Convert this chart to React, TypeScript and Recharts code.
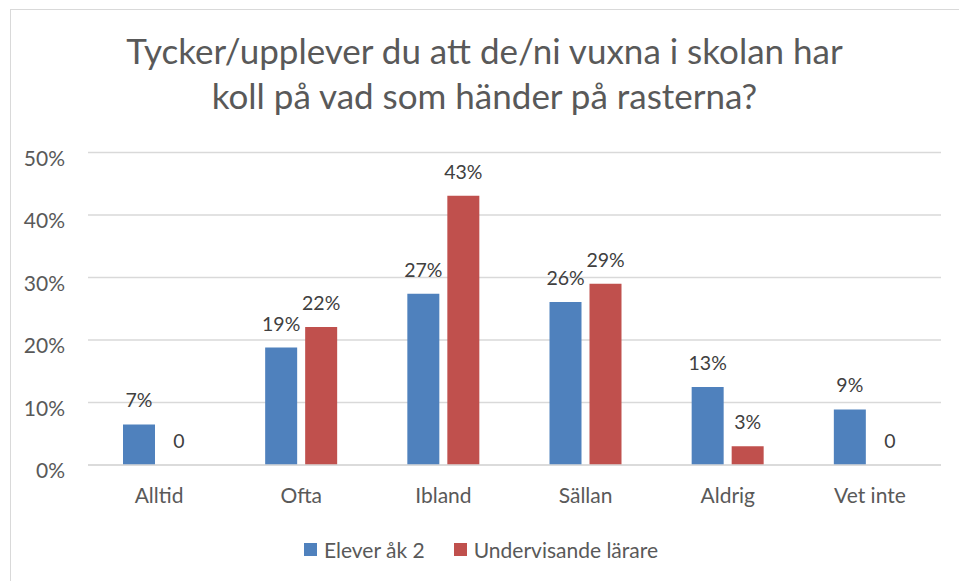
import React from 'react';
import { BarChart, Bar, XAxis, YAxis, CartesianGrid, LabelList } from 'recharts';

const categories = ['Alltid', 'Ofta', 'Ibland', 'Sällan', 'Aldrig', 'Vet inte'];
const eleverValues = [6.5, 18.8, 27.4, 26.1, 12.5, 8.9];
const lararValues = [0, 22.1, 43.1, 29.0, 3.0, 0];
const eleverLabels = ['7%', '19%', '27%', '26%', '13%', '9%'];
const lararLabels = ['0', '22%', '43%', '29%', '3%', '0'];
const yTicks = [0, 10, 20, 30, 40, 50];
const seriesNames = ['Elever åk 2', 'Undervisande lärare'];
const titleLines = ['Tycker/upplever du att de/ni vuxna i skolan har', 'koll på vad som händer på rasterna?'];

const BLUE = '#4F81BD';
const RED = '#C0504D';
const FONT = 'Lato, "Open Sans", sans-serif';

const data = categories.map((c, i) => ({
  category: c,
  elever: eleverValues[i],
  larare: lararValues[i],
  eleverLabel: eleverLabels[i],
  lararLabel: lararLabels[i],
}));

const YTick = (props: any) => {
  const { x, y, payload } = props;
  return (
    <text x={x} y={y} dy={13} textAnchor="end" fill="#595959" fontSize={21} fontFamily={FONT}>
      {`${payload.value}%`}
    </text>
  );
};

export default function App() {
  return (
    <div style={{ position: 'absolute', left: 0, top: 0, width: 959, height: 581, background: '#fff', overflow: 'hidden' }}>
      <div style={{ position: 'absolute', left: 10, top: 9, width: 960, height: 600, borderLeft: '1.5px solid #d9d9d9', borderTop: '1.5px solid #d9d9d9', boxSizing: 'border-box' }} />
      <div style={{ position: 'absolute', left: 10, width: 949, top: 28, textAlign: 'center', fontFamily: FONT, fontSize: 35, lineHeight: '45px', color: '#595959' }}>
        <div>{titleLines[0]}</div>
        <div>{titleLines[1]}</div>
      </div>
      <div style={{ position: 'absolute', left: 0, top: 0 }}>
        <BarChart
          width={959}
          height={581}
          data={data}
          margin={{ top: 152.5, right: 18, bottom: 86, left: 0 }}
          barSize={32}
          barGap={8}
        >
          <CartesianGrid vertical={false} stroke="#d9d9d9" strokeWidth={1.5} />
          <XAxis
            dataKey="category"
            height={30}
            axisLine={{ stroke: '#d9d9d9', strokeWidth: 1.5 }}
            tickLine={false}
            tickSize={0}
            tickMargin={23}
            tick={{ fill: '#595959', fontSize: 21, fontFamily: FONT }}
          />
          <YAxis
            width={88}
            domain={[0, 50]}
            ticks={yTicks}
            axisLine={false}
            tickLine={false}
            tickSize={0}
            tickMargin={23}
            tick={<YTick />}
          />
          <Bar dataKey="elever" name={seriesNames[0]} fill={BLUE} isAnimationActive={false} minPointSize={0.01}>
            <LabelList dataKey="eleverLabel" position="top" offset={17} style={{ fill: '#404040', fontSize: 19.5, fontFamily: FONT }} />
          </Bar>
          <Bar dataKey="larare" name={seriesNames[1]} fill={RED} isAnimationActive={false} minPointSize={0.01}>
            <LabelList dataKey="lararLabel" position="top" offset={17} style={{ fill: '#404040', fontSize: 19.5, fontFamily: FONT }} />
          </Bar>
        </BarChart>
      </div>
      <div style={{ position: 'absolute', left: 16, width: 930, top: 537, height: 24, display: 'flex', justifyContent: 'center', alignItems: 'center', fontFamily: FONT, fontSize: 21, color: '#595959' }}>
        <div style={{ display: 'flex', alignItems: 'center', marginRight: 29 }}>
          <span style={{ display: 'inline-block', width: 13, height: 13, background: BLUE, marginRight: 7 }} />
          <span>{seriesNames[0]}</span>
        </div>
        <div style={{ display: 'flex', alignItems: 'center' }}>
          <span style={{ display: 'inline-block', width: 13, height: 13, background: RED, marginRight: 7 }} />
          <span>{seriesNames[1]}</span>
        </div>
      </div>
    </div>
  );
}
